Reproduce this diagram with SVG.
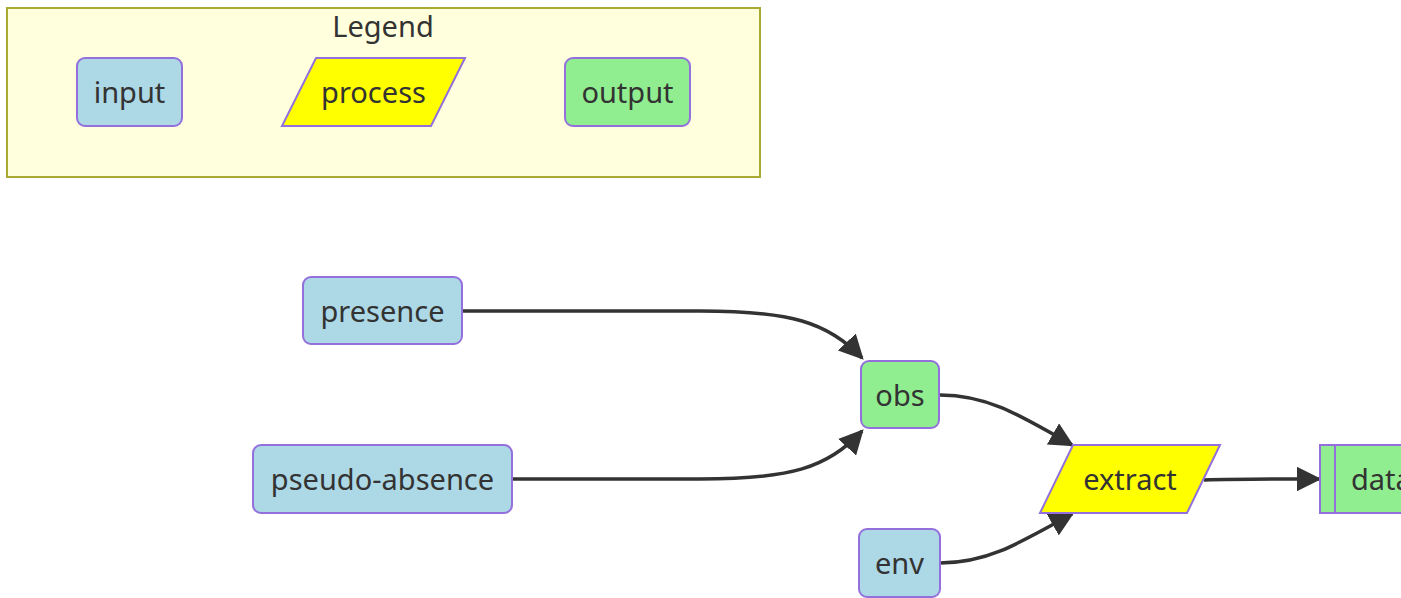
<svg xmlns="http://www.w3.org/2000/svg" width="1401" height="598" viewBox="0 0 1401 598">
  <style>
    text { font-family: "Noto Sans", "Open Sans", "DejaVu Sans", sans-serif; font-size: 29px; fill: #333333; text-anchor: middle; }
    .input { fill: #add8e6; stroke: #9370db; stroke-width: 2; }
    .process { fill: #ffff00; stroke: #9370db; stroke-width: 2; }
    .output { fill: #90ee90; stroke: #9370db; stroke-width: 2; }
    .legend-box { fill: #ffffde; stroke: #aaaa33; stroke-width: 2; }
    .edge { fill: none; stroke: #333333; stroke-width: 3.5; marker-end: url(#arrow); }
  </style>
  <defs>
    <marker id="arrow" viewBox="0 0 10 10" refX="9" refY="5" markerWidth="7" markerHeight="7" markerUnits="strokeWidth" orient="auto">
      <path d="M0,0 L10,5 L0,10 z" fill="#333333"/>
    </marker>
  </defs>

  <!-- legend panel -->
  <g id="legend">
    <rect class="legend-box" x="7" y="8" width="753" height="169"/>
    <text x="383" y="37">Legend</text>
    <g id="legend-input">
      <rect class="input" x="77" y="58" width="105" height="68" rx="8"/>
      <text x="129.5" y="103">input</text>
    </g>
    <g id="legend-process">
      <polygon class="process" points="316,58 465,58 431,126 282,126"/>
      <text x="373.5" y="103">process</text>
    </g>
    <g id="legend-output">
      <rect class="output" x="565" y="58" width="125" height="68" rx="8"/>
      <text x="627.5" y="103">output</text>
    </g>
  </g>

  <!-- connectors -->
  <g id="edges">
    <path class="edge" d="M463,311 L700,311 C790,311 828,322 862,358"/>
    <path class="edge" d="M512,479 L700,479 C790,479 828,468 862,431"/>
    <path class="edge" d="M940,395 C985,395 1015,412 1072,445"/>
    <path class="edge" d="M940,563 C985,563 1015,546 1072,514"/>
    <path class="edge" d="M1204,480 C1240,479 1280,479 1319,479"/>
  </g>

  <!-- nodes -->
  <g id="presence">
    <rect class="input" x="303" y="277" width="159" height="67" rx="8"/>
    <text x="382.5" y="322">presence</text>
  </g>
  <g id="pseudo-absence">
    <rect class="input" x="253" y="445" width="259" height="68" rx="8"/>
    <text x="382.5" y="490">pseudo-absence</text>
  </g>
  <g id="obs">
    <rect class="output" x="861" y="361" width="78" height="67" rx="8"/>
    <text x="900" y="406">obs</text>
  </g>
  <g id="env">
    <rect class="input" x="859" y="529" width="81" height="68" rx="8"/>
    <text x="899.5" y="574">env</text>
  </g>
  <g id="extract">
    <polygon class="process" points="1073,445 1220,445 1187,513 1040,513"/>
    <text x="1130" y="490">extract</text>
  </g>
  <g id="data">
    <rect class="output" x="1320" y="445" width="130" height="68"/>
    <line x1="1335" y1="445" x2="1335" y2="513" stroke="#9370db" stroke-width="2"/>
    <text x="1351" y="490" style="text-anchor: start">data</text>
  </g>
</svg>
